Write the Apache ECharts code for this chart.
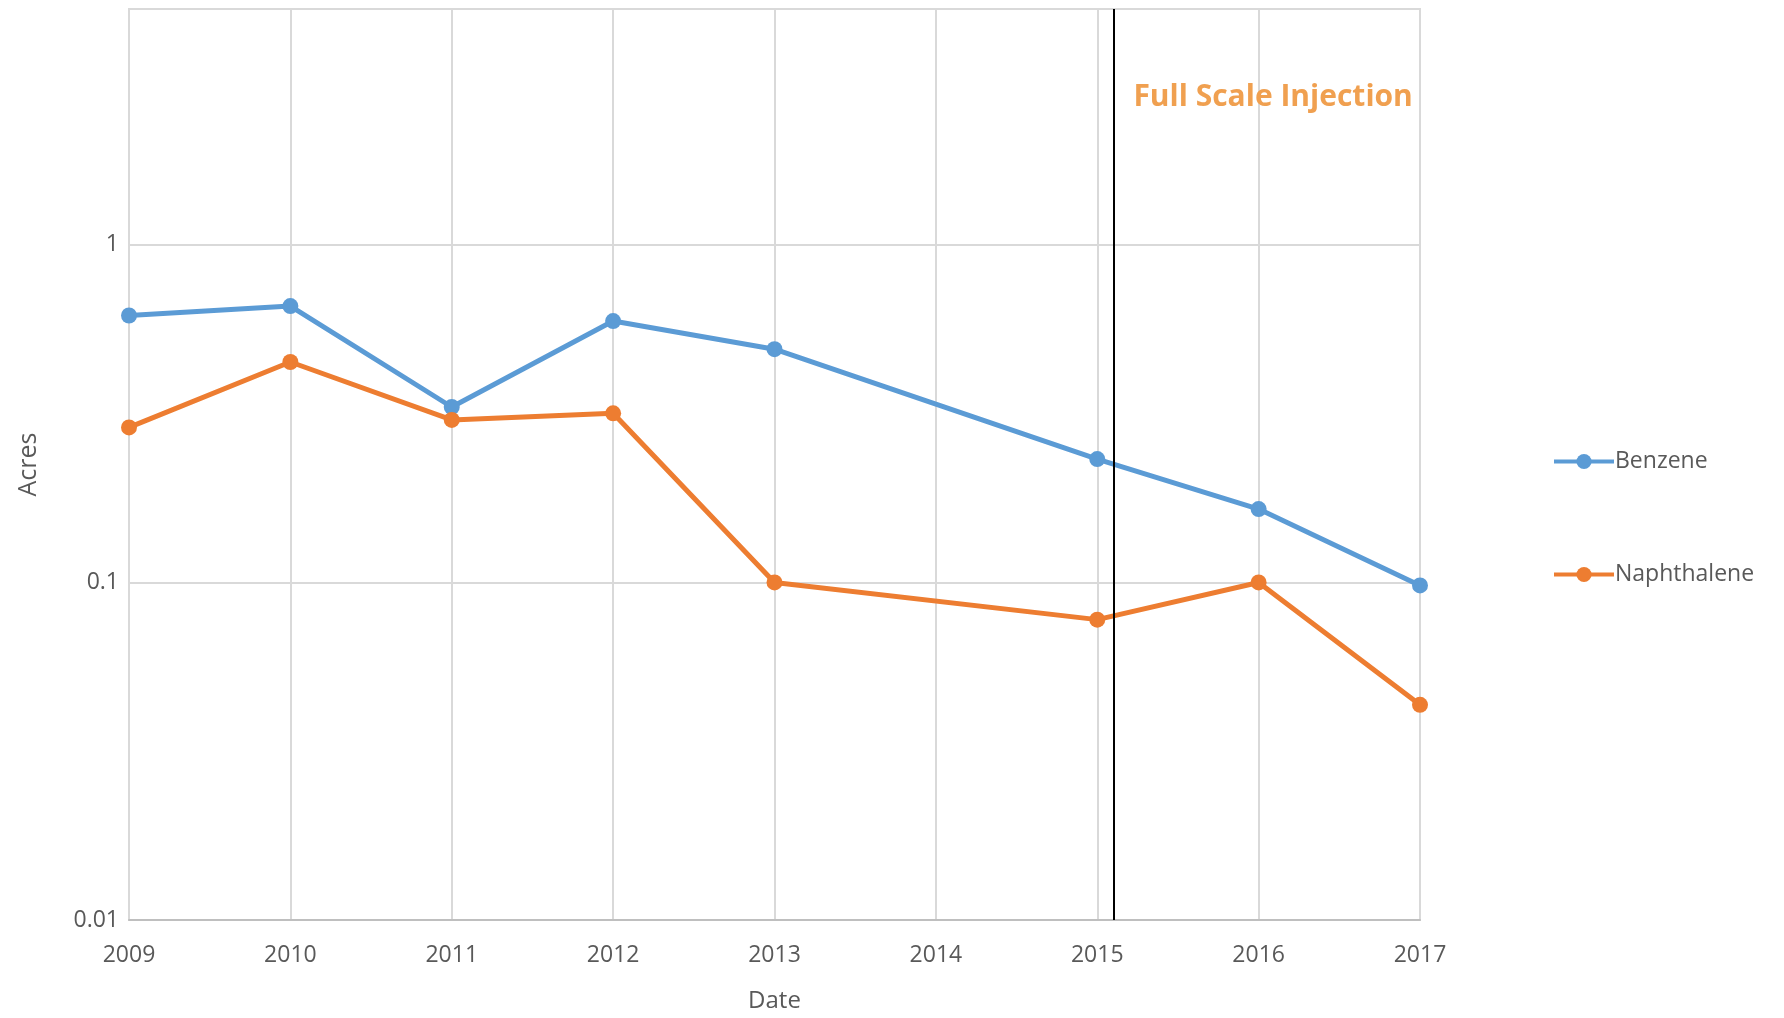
<!DOCTYPE html>
<html>
<head>
<meta charset="utf-8">
<script src="https://cdn.jsdelivr.net/npm/echarts@6/dist/echarts.min.js"></script>
<style>
html,body{margin:0;padding:0;background:#fff;}
#chart{width:1784px;height:1018px;}
</style>
</head>
<body>
<div id="chart"></div>
<script>
const years = [2009, 2010, 2011, 2012, 2013, 2015, 2016, 2017];
const benzene = [0.618, 0.659, 0.331, 0.595, 0.491, 0.232, 0.165, 0.098];
const naphthalene = [0.288, 0.450, 0.303, 0.317, 0.100, 0.0776, 0.100, 0.0434];
const injectionYear = 2015.1;
const injectionLabel = 'Full Scale Injection';
const injectionLabelY = 2.74;
const yTicks = [0.01, 0.1, 1];

const font = "'Open Sans', 'Noto Sans', sans-serif";
const blue = '#5B9BD5';
const orange = '#ED7D31';
const textColor = '#595959';

const pair = (xs, ys) => xs.map((x, i) => [x, ys[i]]);

const chart = echarts.init(document.getElementById('chart'), null, {renderer: 'canvas'});
chart.setOption({
  animation: false,
  backgroundColor: '#fff',
  grid: {left: 129, right: 364, top: 9, bottom: 96, show: true, borderColor: '#d9d9d9', borderWidth: 2},
  legend: {
    orient: 'vertical', left: 1547, top: 445, itemGap: 90,
    itemWidth: 60, itemHeight: 19,
    lineStyle: {width: 4},
    textStyle: {fontFamily: font, fontSize: 23, color: textColor, padding: [0, 0, 0, -4]},
    data: ['Benzene', 'Naphthalene']
  },
  xAxis: {
    type: 'value', min: 2009, max: 2017, interval: 1,
    name: 'Date', nameLocation: 'middle', nameGap: 69,
    nameTextStyle: {fontFamily: font, fontSize: 24, color: textColor},
    axisLine: {show: true, lineStyle: {color: '#bfbfbf', width: 2}},
    axisTick: {show: false},
    axisLabel: {fontFamily: font, fontSize: 23, color: textColor, margin: 24, formatter: v => String(v)},
    splitLine: {show: true, lineStyle: {color: '#d9d9d9', width: 2}}
  },
  yAxis: {
    type: 'log', logBase: 10, min: 0.01, max: 5,
    name: 'Acres', nameLocation: 'middle', nameGap: 88,
    nameTextStyle: {fontFamily: font, fontSize: 25, color: textColor},
    axisLine: {show: false},
    axisTick: {show: false},
    axisLabel: {fontFamily: font, fontSize: 23, color: textColor, margin: 10,
      formatter: v => yTicks.includes(+v.toPrecision(6)) ? String(+v.toPrecision(6)) : ''},
    splitLine: {show: true, lineStyle: {color: '#d9d9d9', width: 2}}
  },
  series: [
    {
      name: 'Benzene', type: 'line', data: pair(years, benzene),
      color: blue, symbol: 'circle', symbolSize: 16,
      lineStyle: {width: 5, color: blue}, itemStyle: {color: blue},
      z: 3
    },
    {
      name: 'Naphthalene', type: 'line', data: pair(years, naphthalene),
      color: orange, symbol: 'circle', symbolSize: 16,
      lineStyle: {width: 5, color: orange}, itemStyle: {color: orange},
      z: 3,
      markLine: {
        silent: true, symbol: ['none', 'none'],
        lineStyle: {color: '#000', width: 2, type: 'solid'},
        label: {show: false},
        data: [{xAxis: injectionYear}],
        z: 5
      },
      markPoint: {
        silent: true, symbol: 'circle', symbolSize: 0,
        data: [{coord: [injectionYear, injectionLabelY]}],
        label: {show: true, position: 'right', distance: 20, formatter: injectionLabel,
          fontFamily: font, fontSize: 30, fontWeight: 'bold', color: '#F0A050'}
      }
    }
  ]
});
</script>
</body>
</html>
